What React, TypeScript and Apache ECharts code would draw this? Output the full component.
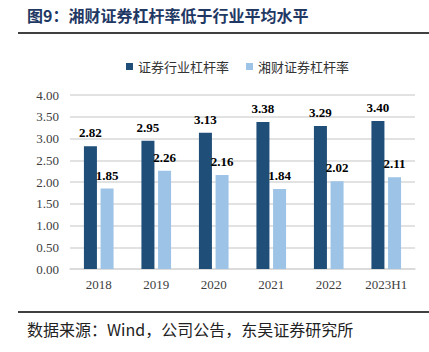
import React, { useEffect, useRef } from "react";
import * as echarts from "echarts";

const categories = ["2018", "2019", "2020", "2021", "2022", "2023H1"];
const industryLeverage = [2.82, 2.95, 3.13, 3.38, 3.29, 3.4];
const xiangcaiLeverage = [1.85, 2.26, 2.16, 1.84, 2.02, 2.11];
const seriesNames = ["证券行业杠杆率", "湘财证券杠杆率"];
const titleText = "图9：湘财证券杠杆率低于行业平均水平";
const sourceText = "数据来源：Wind，公司公告，东吴证券研究所";

export default function App() {
  const ref = useRef<HTMLDivElement>(null);
  useEffect(() => {
    if (!ref.current) return;
    const chart = echarts.init(ref.current, null, { renderer: "svg" });
    const serif = "'Liberation Serif', 'Times New Roman', serif";
    const cjk = "'Noto Sans CJK SC', sans-serif";
    const label = {
      show: true,
      position: "top" as const,
      distance: 7,
      fontFamily: serif,
      fontWeight: "bold" as const,
      fontSize: 13,
      color: "#000",
      formatter: (p: any) => Number(p.value).toFixed(2),
    };
    chart.setOption({
      animation: false,
      backgroundColor: "#fff",
      legend: {
        top: 55,
        left: 121,
        itemWidth: 7,
        itemHeight: 7,
        itemGap: 17,
        icon: "rect",
        textStyle: { fontFamily: cjk, fontSize: 13, color: "#333" },
        data: seriesNames,
      },
      grid: { left: 70, right: 14, top: 95, bottom: 83 },
      xAxis: {
        type: "category",
        data: categories,
        axisLine: { lineStyle: { color: "#d9d9d9", width: 1.5 } },
        axisTick: { show: false },
        axisLabel: { fontFamily: serif, fontSize: 13, color: "#404040", margin: 9 },
      },
      yAxis: {
        type: "value",
        min: 0,
        max: 4,
        interval: 0.5,
        axisLine: { show: false },
        axisTick: { show: false },
        splitLine: { lineStyle: { color: "#d9d9d9", width: 1.5 } },
        axisLabel: {
          fontFamily: serif,
          fontSize: 13,
          color: "#404040",
          margin: 11,
          formatter: (v: number) => v.toFixed(2),
        },
      },
      series: [
        {
          name: seriesNames[0],
          type: "bar",
          data: industryLeverage,
          barWidth: 13,
          barGap: "28%",
          itemStyle: { color: "#1f4e79" },
          label,
        },
        {
          name: seriesNames[1],
          type: "bar",
          data: xiangcaiLeverage,
          barWidth: 13,
          itemStyle: { color: "#9dc3e6" },
          label,
        },
      ],
      graphic: [
        {
          type: "text",
          left: 27,
          top: 7,
          style: {
            text: titleText,
            fontFamily: cjk,
            fontWeight: "bold",
            fontSize: 16,
            fill: "#1f3864",
          },
        },
        {
          type: "line",
          shape: { x1: 18, y1: 33, x2: 429, y2: 33 },
          style: { stroke: "#000", lineWidth: 1.5 },
        },
        {
          type: "line",
          shape: { x1: 18, y1: 312, x2: 429, y2: 312 },
          style: { stroke: "#000", lineWidth: 1.5 },
        },
        {
          type: "text",
          left: 27,
          top: 321,
          style: {
            text: sourceText,
            fontFamily: cjk,
            fontSize: 16,
            fill: "#222",
          },
        },
      ],
    });
    return () => chart.dispose();
  }, []);
  return <div ref={ref} style={{ width: 429, height: 352, position: "absolute", left: 0, top: 0 }} />;
}
